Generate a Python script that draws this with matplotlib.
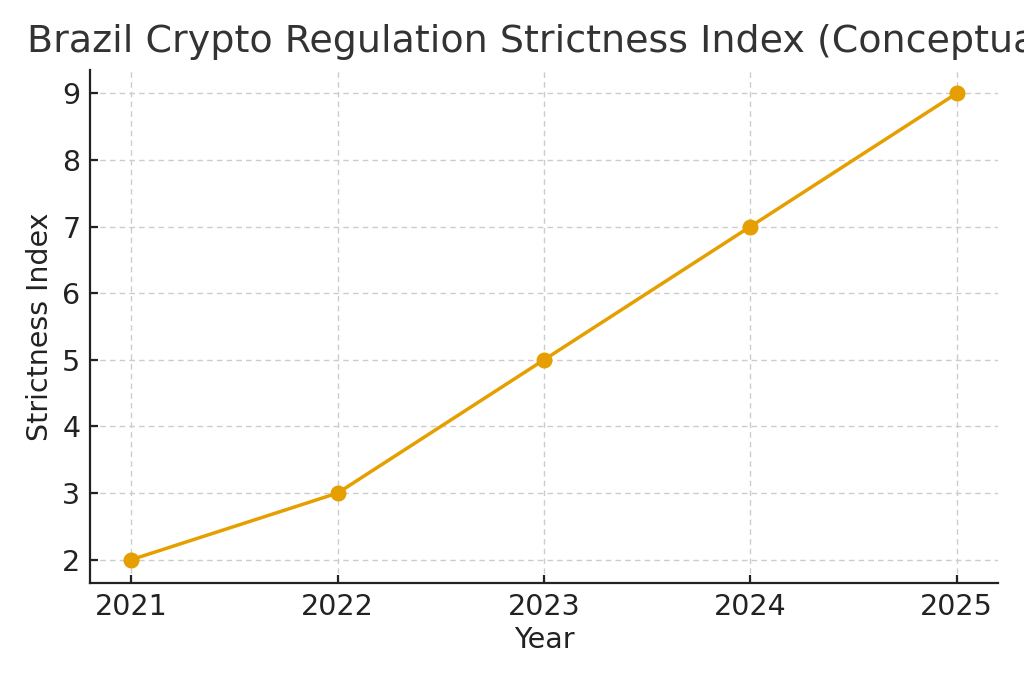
import matplotlib
matplotlib.use('Agg')
import matplotlib.pyplot as plt

# data
years = [2021, 2022, 2023, 2024, 2025]
strictness = [2, 3, 5, 7, 9]

line_color = '#E69F00'
text_color = '#333333'

fig = plt.figure(figsize=(10.24, 6.83), dpi=100)
ax = fig.add_axes([0.0879, 0.1464, 0.8867, 0.7511])

ax.plot(years, strictness, color=line_color, linewidth=2.5,
        marker='o', markersize=10.5, zorder=3)

ax.set_xticks(years)
# the title is wider than the figure in the reference too, so it gets clipped
ax.set_title('Brazil Crypto Regulation Strictness Index (Conceptual)',
             fontsize=27.4, color=text_color, pad=13)
ax.set_xlabel('Year', fontsize=20.5, color='#222222', labelpad=4)
ax.set_ylabel('Strictness Index', fontsize=20.5, color='#222222', labelpad=6)

ax.grid(True, linestyle=(0, (4, 3)), color='#cccccc', linewidth=1.0)
ax.set_axisbelow(True)
for s in ['top', 'right']:
    ax.spines[s].set_visible(False)
for s in ['left', 'bottom']:
    ax.spines[s].set_linewidth(1.6)
    ax.spines[s].set_color('#222222')
ax.tick_params(direction='in', length=6, width=1.6, labelsize=20.5,
               colors='#222222', pad=7)

fig.savefig('out.png', dpi=100)
